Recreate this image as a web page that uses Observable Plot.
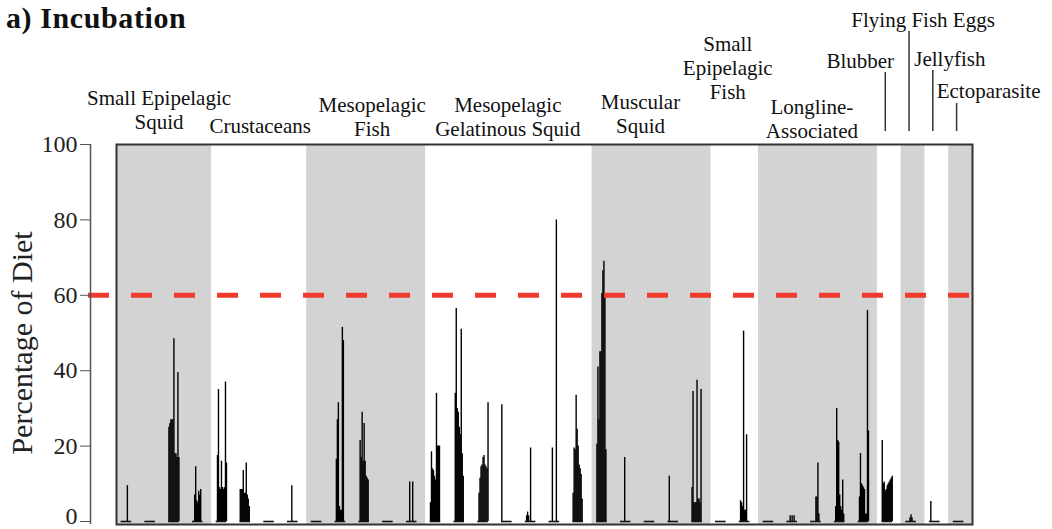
<!DOCTYPE html>
<html>
<head>
<meta charset="utf-8">
<script src="https://cdn.jsdelivr.net/npm/d3@7"></script>
<script src="https://cdn.jsdelivr.net/npm/@observablehq/plot@0.6"></script>
<style>
  body { margin: 0; background: #fff; }
  #wrap { position: relative; width: 1052px; height: 529px; overflow: hidden; }
  #title { position: absolute; left: 6px; top: 1px; font: bold 30px "Liberation Serif", "Times New Roman", serif; line-height: 34px; letter-spacing: 0.6px; color: #111; }
</style>
</head>
<body>
<div id="wrap"><div id="title">a) Incubation</div></div>
<script>
// ---------------- data ----------------
const categories = [
  "Small Epipelagic\nSquid", "Crustaceans", "Mesopelagic\nFish", "Mesopelagic\nGelatinous Squid",
  "Muscular\nSquid", "Small\nEpipelagic\nFish", "Longline-\nAssociated", "Blubber",
  "Flying Fish Eggs", "Jellyfish", "Ectoparasite"
];
const yTicks = [0, 20, 40, 60, 80, 100];
const threshold = 60;
const yLabel = "Percentage of Diet";

// each inner array = one prey group, values = individual samples (% of diet)
const smallEpipelagicSquid = [
  [0, 0, 0, 0, 0, 0, 9.5, 0, 0, 0, 0],
  [0, 0, 0, 0, 0, 0, 0, 0, 0, 0, 0],
  [25, 26, 27, 27, 27, 48.5, 18, 18, 17, 39.5, 17],
  [0, 0, 7, 14.5, 5.5, 5, 8, 7, 8.5, 0, 0]
];
const crustaceans = [
  [0, 17.5, 35, 9, 8.5, 16, 9, 8.5, 9, 37, 15.5],
  [8.5, 8.5, 8.5, 13.5, 7.5, 7.5, 15.5, 7, 6, 4, 0],
  [0, 0, 0, 0, 0, 0, 0, 0, 0, 0, 0],
  [0, 0, 0, 0, 9.5, 0, 0, 0, 0, 0, 0]
];
const mesopelagicFish = [
  [0, 0, 0, 0, 0, 0, 0, 0, 0, 0, 0],
  [0, 16.5, 27, 31.5, 4, 3, 3, 51.5, 48, 0, 0],
  [0, 21.5, 17, 29, 16, 26, 16, 12, 11.5, 11, 0],
  [0, 0, 0, 0, 0, 0, 0, 0, 0, 0, 0],
  [0, 0, 0, 10.5, 0, 0, 10.5, 0, 0, 0, 0]
];
const mesopelagicGelatinousSquid = [
  [5, 18.5, 14, 13.5, 12, 11, 34, 20, 20, 20, 0],
  [0, 34, 56.5, 30, 29, 25, 23, 51, 18, 12, 0],
  [0, 7.5, 11.5, 14.5, 15, 17, 17.5, 15, 14.5, 14, 31.5],
  [31, 0, 0, 0, 0, 0, 0, 0, 0, 0, 0],
  [0, 1.5, 2.5, 1.5, 0, 19.5, 0, 0, 0, 0, 0],
  [0, 0, 0, 19.5, 0, 0, 0, 80, 0, 0, 0],
  [7.5, 19.5, 19, 33.5, 24.5, 20, 15, 14, 12.5, 6, 0]
];
const muscularSquid = [
  [20.5, 41, 27, 45, 45, 60.5, 66.5, 69, 60, 19, 0],
  [0, 0, 0, 0, 17, 0, 0, 0, 0, 0, 0],
  [0, 0, 0, 0, 0, 0, 0, 0, 0, 0, 0],
  [0, 12, 0, 0, 0, 0, 0, 0, 0, 0, 0],
  [9, 34.5, 5, 5, 5, 37.5, 6, 6, 5, 35, 0]
];
const smallEpipelagicFish = [
  [0, 0, 0, 0, 0, 0, 0, 0, 0, 0, 0],
  [0, 5.5, 5, 4, 50.5, 3, 3, 23, 0, 0, 0]
];
const longlineAssociated = [
  [0, 0, 0, 0, 0, 0, 0, 0, 0, 0, 0],
  [0, 0, 0, 1.5, 0, 1.5, 0, 1.5, 0, 0, 0],
  [0, 0, 0, 0, 0, 6.5, 6.5, 15.5, 2, 0, 0],
  [0, 4, 30, 21.5, 21, 7, 4, 3, 11, 2, 0],
  [0, 6.5, 18, 10, 9.5, 9, 8.5, 2, 2, 56, 24]
];
const blubber = [[21.5, 10, 10.5, 8, 8.5, 9.5, 10, 10.5, 11, 11.5, 12]];
const flyingFishEggs = [[0, 0, 0, 0, 1, 1.8, 1, 0, 0, 0, 0]];
const jellyfish = [[0, 5.3, 0, 0, 0, 0, 0, 0, 0, 0, 0]];
const ectoparasite = [[0, 0, 0, 0, 0, 0, 0, 0, 0, 0, 0]];

const values = [smallEpipelagicSquid, crustaceans, mesopelagicFish, mesopelagicGelatinousSquid,
  muscularSquid, smallEpipelagicFish, longlineAssociated, blubber, flyingFishEggs, jellyfish, ectoparasite];

// ---------------- layout / style ----------------
const W = 1052, H = 529;
const mTop = 144, mBottom = 8, mLeft = 116, mRight = 80;
const GRAY = "#d3d3d3", RED = "#ef3b2c", INK = "#111";
const FONT = '"Liberation Serif", "Times New Roman", serif';
const AXIS_DX = -26, TICK = 10, PAD = 3;
// label nudges (px) relative to category centre / frame top
const labelDx = [-5, 1, 6, -1, -11, -7, -6, -29, 10, 13, 28];
const labelDy = [-16, -12, -9, -9, -12, -46, -7, -77, -118, -79, -47];
const leaderTop = {7: 72, 8: 31, 9: 70, 10: 103}; // px
const leaderBottom = 131;

// ---------------- derived tables ----------------
const rows = [], clusters = [], bands = [];
let k = 0;
values.forEach((cat, c) => {
  const start = k;
  cat.forEach(cl => {
    clusters.push({i: k, c});
    cl.forEach((v, j) => rows.push({i: k, j, v, n: cl.length}));
    k++;
  });
  bands.push({c, start, end: k, label: categories[c]});
});
const nClusters = k;
const pxUnit = (W - mLeft - mRight) / nClusters;
const step = 1 / pxUnit;      // one pixel in x units
const shift = 0.415;          // cluster centre inside its slot
const xOf = d => d.i + shift + (d.j - (d.n - 1) / 2) * step;

const labelMarks = bands.map(b => Plot.text([b], {
  x: d => (d.start + d.end) / 2, frameAnchor: "top", text: "label",
  lineAnchor: "bottom", lineHeight: 1.12, fontSize: 21, fill: INK,
  dx: labelDx[b.c], dy: labelDy[b.c]
}));
const leaderMarks = Object.entries(leaderTop).map(([c, top]) => {
  const b = bands[+c];
  return Plot.ruleX([b], {
    x: d => (d.start + d.end) / 2, dx: -4, stroke: "#333", strokeWidth: 1.5,
    insetTop: top - mTop, insetBottom: (H - mBottom) - leaderBottom
  });
});

const plot = Plot.plot({
  width: W, height: H,
  marginTop: mTop, marginBottom: mBottom, marginLeft: mLeft, marginRight: mRight,
  x: {domain: [0, nClusters], axis: null},
  y: {domain: [0, 100], axis: null},
  style: {fontFamily: FONT, background: "white", color: "#222"},
  marks: [
    Plot.rect(bands.filter(b => b.c % 2 === 0), {x1: "start", x2: "end", y1: 0, y2: 100, fill: GRAY, insetBottom: -3}),
    Plot.ruleX(rows.filter(d => d.v > 0), {x: xOf, y1: "v", y2: 0, stroke: "#000", strokeWidth: 1.4}),
    Plot.ruleY(clusters, {y: 0, x1: d => d.i + shift - 5.3 * step, x2: d => d.i + shift + 5.3 * step,
      stroke: INK, strokeWidth: 1.6}),
    Plot.ruleY([threshold], {stroke: RED, strokeWidth: 5, strokeDasharray: "21,22", insetLeft: -28, insetRight: 3}),
    Plot.frame({stroke: "#333", strokeWidth: 2, insetBottom: -3}),
    Plot.ruleX([0], {dx: AXIS_DX, stroke: "#555", strokeWidth: 1.5, insetBottom: -3}),
    Plot.axisY({ticks: yTicks, tickSize: TICK, tickPadding: PAD, dx: AXIS_DX, fontSize: 24, label: null,
      stroke: "#555", fill: "#222", tickFormat: d => (d === 0 ? "" : String(d))}),
    // the bottom "0" label, nudged up so it stays inside the picture
    Plot.text(yTicks.filter(t => t === 0), {y: d => d, text: d => String(d), frameAnchor: "left",
      textAnchor: "end", dx: AXIS_DX - TICK - PAD, dy: -5, fontSize: 24, fill: "#222"}),
    Plot.text([yLabel], {frameAnchor: "left", textAnchor: "middle", rotate: -90, dx: -94, dy: 10,
      fontSize: 30, fill: "#222"}),
    ...labelMarks,
    ...leaderMarks
  ]
});
document.getElementById("wrap").prepend(plot);
plot.style.position = "absolute";
plot.style.left = "0";
plot.style.top = "0";
</script>
</body>
</html>
